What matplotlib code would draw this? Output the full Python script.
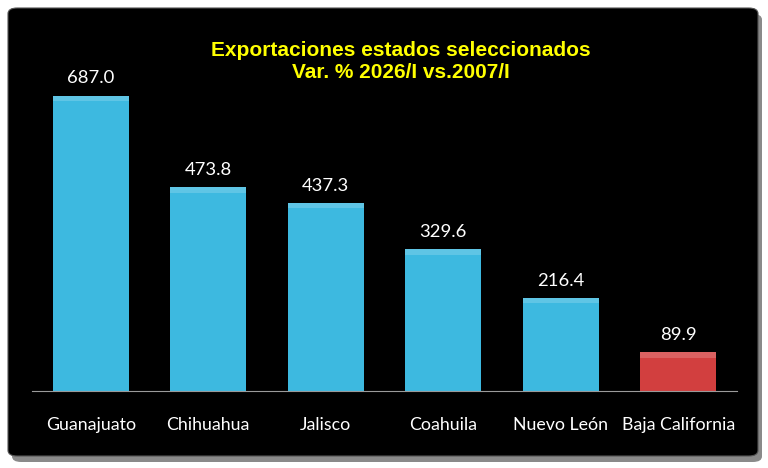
import matplotlib.pyplot as plt
from matplotlib.patches import FancyBboxPatch

estados = ['Guanajuato', 'Chihuahua', 'Jalisco', 'Coahuila', 'Nuevo León', 'Baja California']
variacion = [687.0, 473.8, 437.3, 329.6, 216.4, 89.9]
colores = ['#3DB9E0'] * 5 + ['#D23F3F']

titulo = 'Exportaciones estados seleccionados\nVar. % 2026/I vs.2007/I'

fig = plt.figure(figsize=(7.68, 4.68), dpi=100)
fig.patch.set_facecolor('white')

# shadow + black panel
fig.patches.append(FancyBboxPatch((12/768, 1 - 462/468), 750/768, 448/468,
                                  boxstyle='round,pad=0,rounding_size=0.012',
                                  transform=fig.transFigure, fc='#8a8a8a', ec='none', zorder=-2))
fig.patches.append(FancyBboxPatch((8/768, 1 - 456/468), 750/768, 448/468,
                                  boxstyle='round,pad=0,rounding_size=0.012',
                                  transform=fig.transFigure, fc='black', ec='#555555', lw=0.8, zorder=-1))

ax = fig.add_axes([32/768, 1 - 391/468, 705/768, 351/468])
ax.set_facecolor('none')
x = range(len(estados))
bars = ax.bar(x, variacion, width=0.65, color=colores, edgecolor='none', zorder=2)
for b in bars:
    # small bevel highlight along top edge
    ax.bar(b.get_x() + b.get_width() / 2, 12, bottom=b.get_height() - 12, width=b.get_width(),
           color='white', alpha=0.18, edgecolor='none', zorder=3)
for xi, v in zip(x, variacion):
    ax.text(xi, v + 22, f'{v:.1f}', ha='center', va='bottom', color='white', fontsize=13.3,
            family='Lato')

ax.set_xlim(-0.5, len(estados) - 0.5)
ax.set_ylim(0, 817)
ax.set_xticks(list(x))
ax.set_xticklabels(estados, color='white', fontsize=12.8, family='Lato')
ax.tick_params(axis='x', length=0, pad=19)
ax.set_yticks([])
for s in ['top', 'right', 'left']:
    ax.spines[s].set_visible(False)
ax.spines['bottom'].set_color('#9a9a9a')
ax.spines['bottom'].set_linewidth(0.8)

fig.text(401/768, 1 - 61/468, titulo, ha='center', va='center', color='#FFFF00',
         fontsize=15, fontweight='bold', family='Liberation Sans', linespacing=1.2)

fig.savefig('out.png', dpi=100, facecolor='white')
